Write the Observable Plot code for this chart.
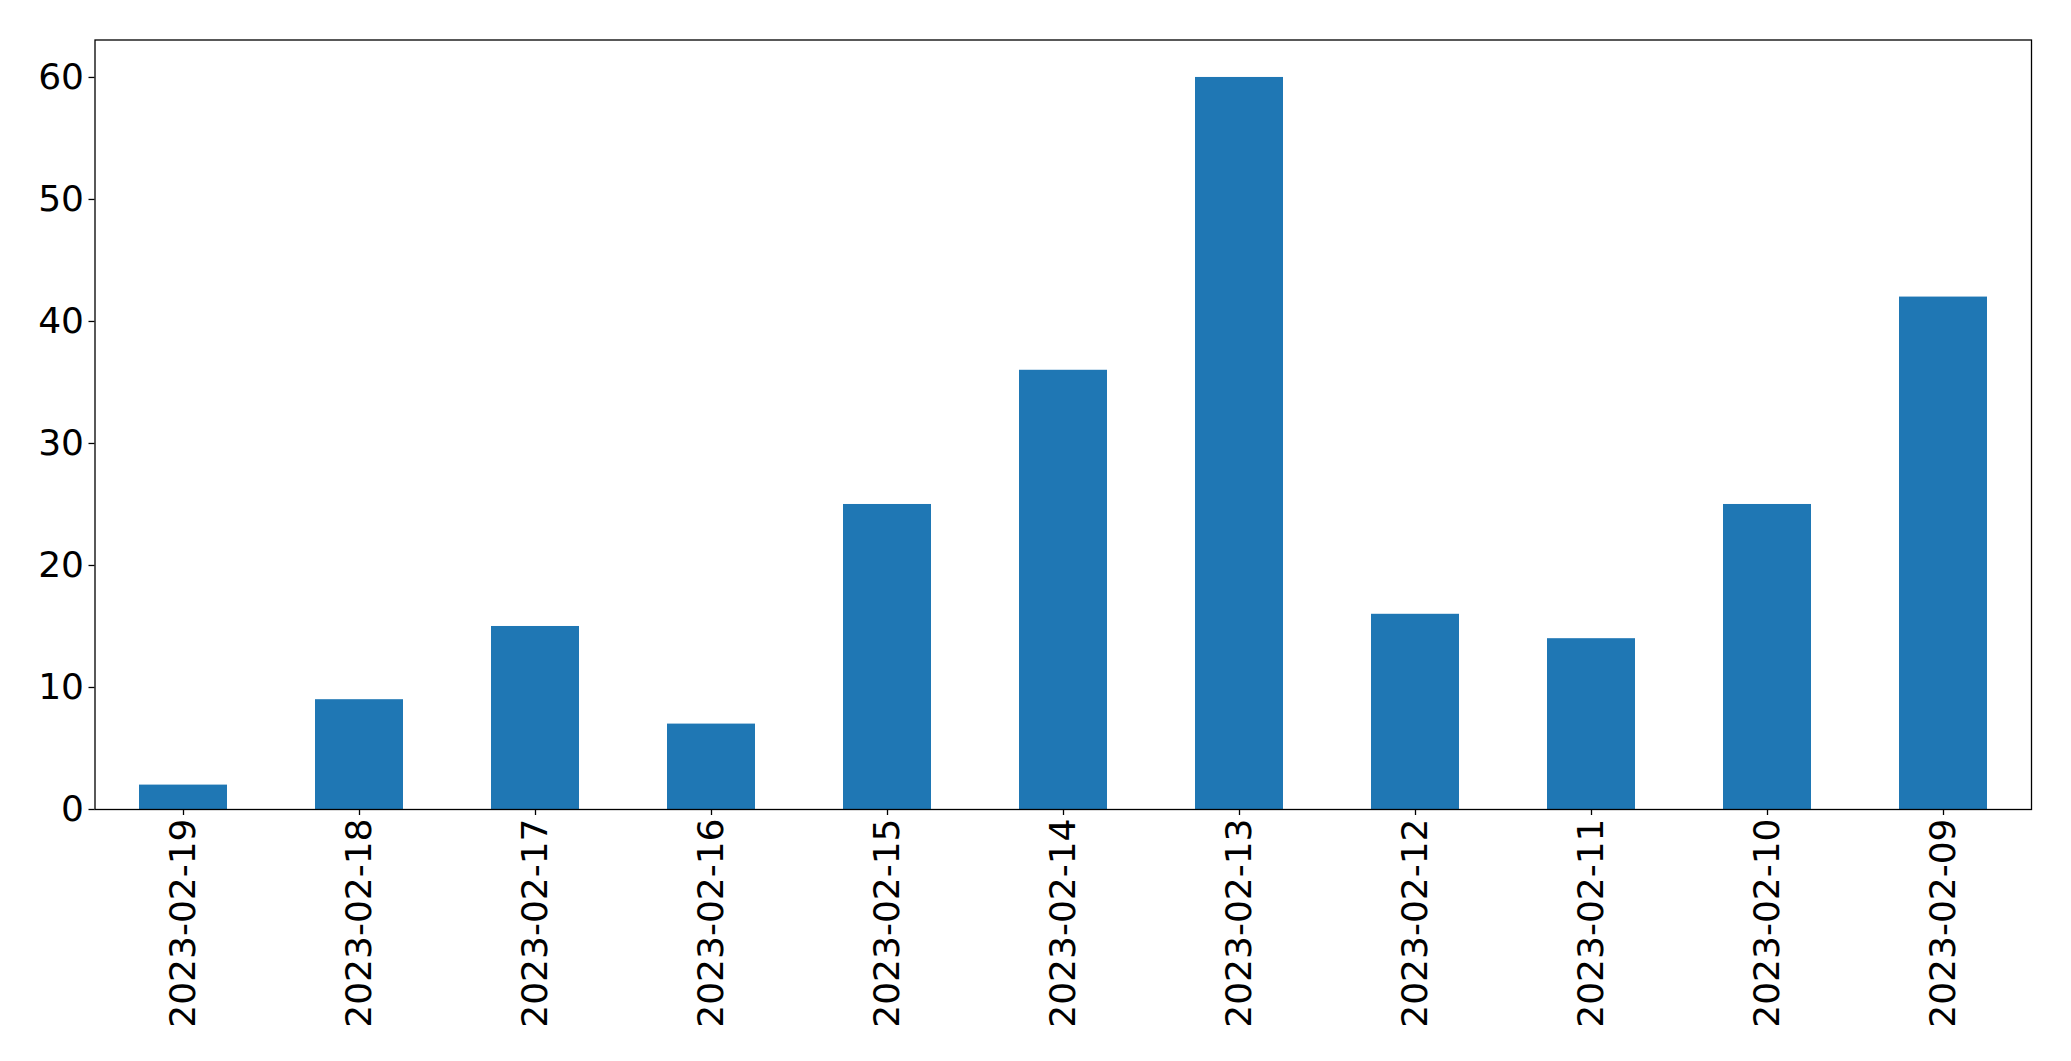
<!DOCTYPE html>
<html>
<head>
<meta charset="utf-8">
<script src="https://cdn.jsdelivr.net/npm/d3@7"></script>
<script src="https://cdn.jsdelivr.net/npm/@observablehq/plot@0.6"></script>
<style>
  html, body { margin: 0; padding: 0; background: #fff; }
  #chart { width: 2071px; height: 1061px; }
</style>
</head>
<body>
<div id="chart"></div>
<script>
const dates = ["2023-02-19","2023-02-18","2023-02-17","2023-02-16","2023-02-15","2023-02-14","2023-02-13","2023-02-12","2023-02-11","2023-02-10","2023-02-09"];
const counts = [2, 9, 15, 7, 25, 36, 60, 16, 14, 25, 42];
const yTicks = [0, 10, 20, 30, 40, 50, 60];

const data = dates.map((d, i) => ({date: d, count: counts[i]}));

const chart = Plot.plot({
  width: 2071,
  height: 1061,
  marginLeft: 94.5,
  marginRight: 40,
  marginTop: 39.5,
  marginBottom: 252,
  style: {fontFamily: "'DejaVu Sans', sans-serif", fontSize: "36px", color: "#000", background: "#fff"},
  x: {type: "band", domain: dates, paddingInner: 0.5, paddingOuter: 0.25, align: 0.5, label: null},
  y: {domain: [0, 63.07], label: null},
  marks: [
    Plot.barY(data, {x: "date", y: "count", fill: "#1f77b4"}),
    Plot.frame({stroke: "#000", strokeWidth: 1.3}),
    Plot.axisY({ticks: yTicks, tickSize: 6, tickPadding: 5, strokeWidth: 1.3, tickFormat: d => String(d), label: null, fontSize: 36}),
    Plot.axisX({tickRotate: -90, tickSize: 6, tickPadding: 3, strokeWidth: 1.3, label: null, fontSize: 36})
  ]
});
document.getElementById("chart").appendChild(chart);
</script>
</body>
</html>
